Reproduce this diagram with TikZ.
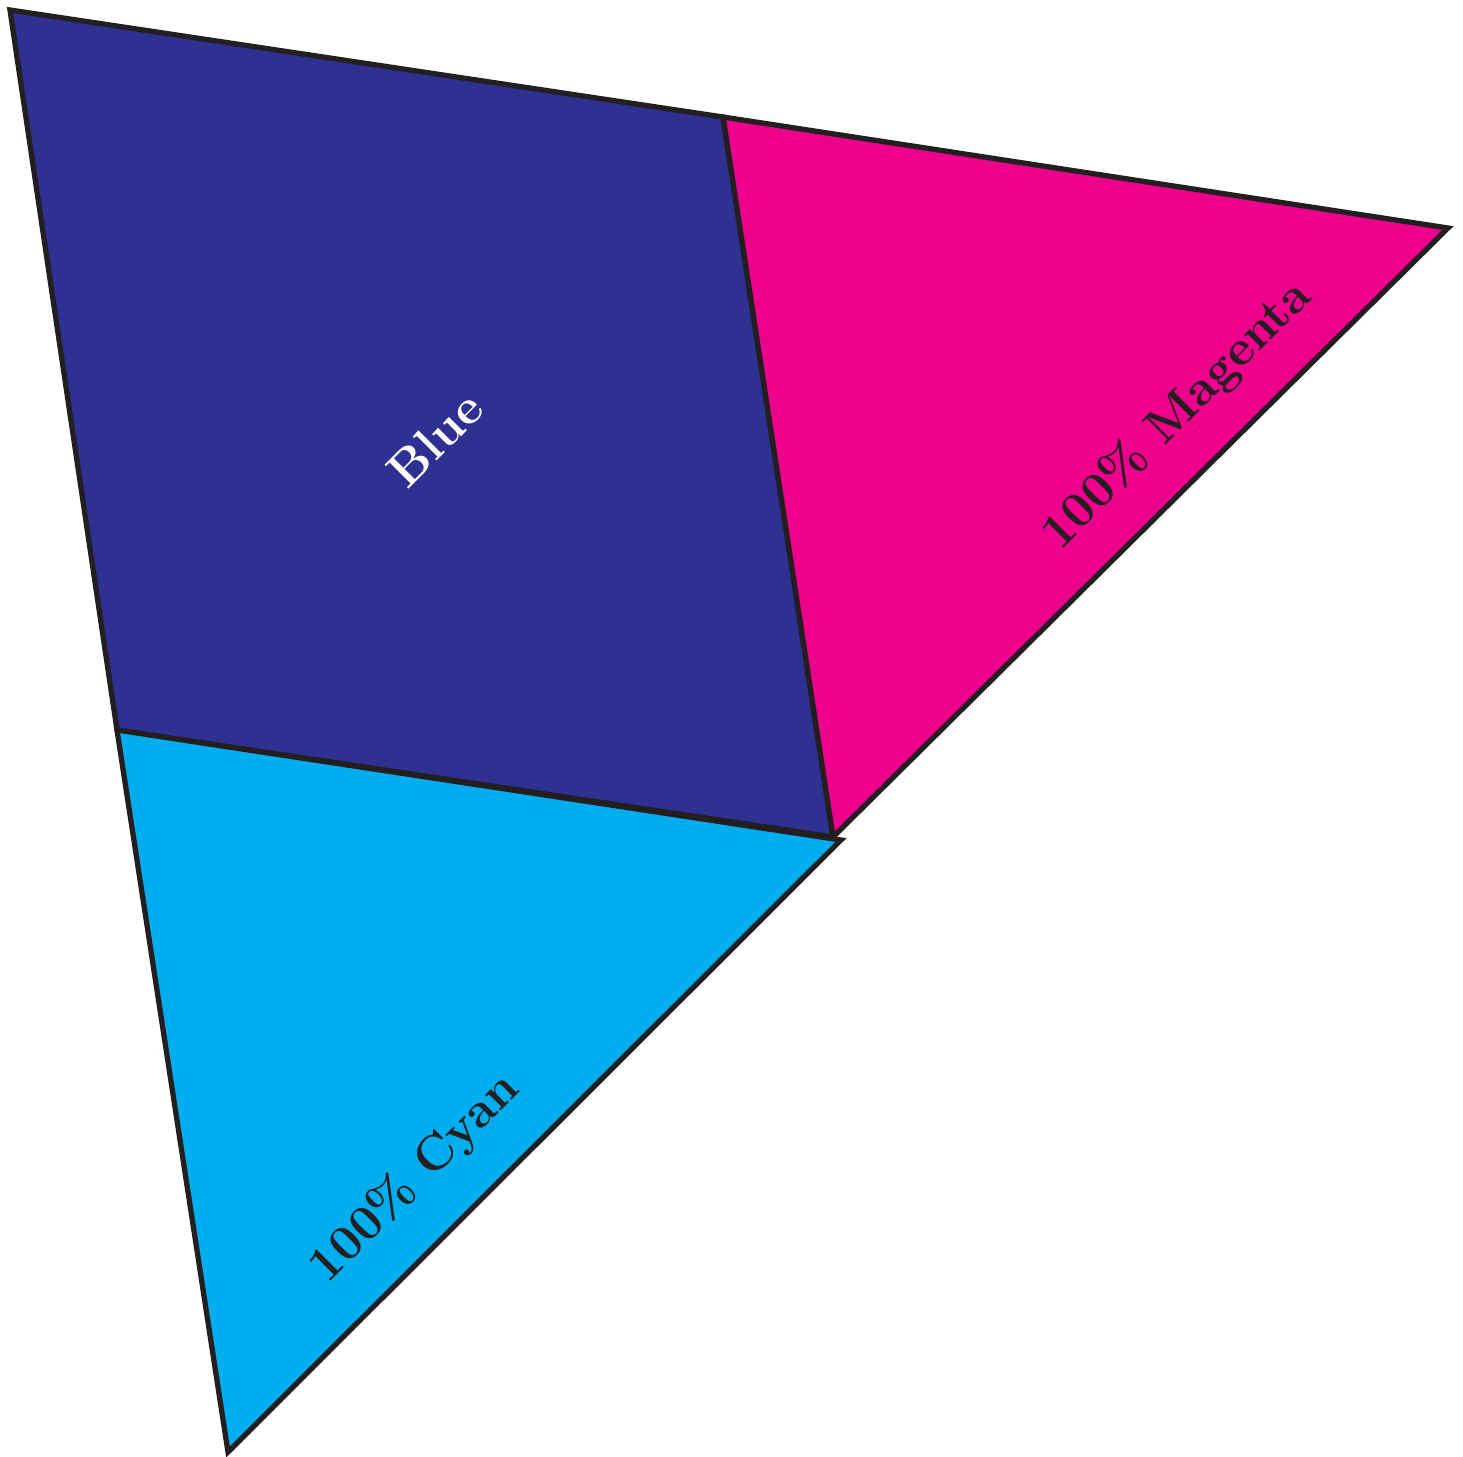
\documentclass[tikz,border=0pt]{standalone}
\usetikzlibrary{calc}
\definecolor{cblue}{HTML}{2E3192}
\definecolor{cmagenta}{HTML}{EC008C}
\definecolor{ccyan}{HTML}{00AEEF}
\definecolor{cink}{HTML}{231F20}
\tikzset{
  every picture/.style={line width=1.5pt},
  patch/.style={draw=cink, fill=#1, line join=miter},
  patch/.default=cblue,
  tag/.style={font=\bfseries\fontsize{14}{16}\selectfont, text=cink, rotate=45, inner sep=0pt},
}

\begin{document}
\begin{tikzpicture}[x=0.01cm, y=-0.01cm]
  \useasboundingbox (0,0) rectangle (1463,1457);

  % corners
  \coordinate (tl) at (10,10);
  \coordinate (tm) at (723,117);
  \coordinate (rt) at (1448,228);
  \coordinate (md) at (833,837);
  \coordinate (cy) at (841,840);
  \coordinate (lm) at (117,730);
  \coordinate (bt) at (228,1452);

  % patches
  \draw[patch=cblue] (tl) -- (tm) -- (md) -- (lm) -- cycle;
  \draw[patch=cmagenta] (tm) -- (rt) -- (md) -- cycle;
  \draw[patch=ccyan] (lm) -- (cy) -- (bt) -- cycle;

  % labels
  \node[tag, text=white] (lblue) at (435,439) {Blue};
  \node[tag] (lmag) at (1177,415) {100\% Magenta};
  \node[tag] (lcyan) at (415,1178) {100\% Cyan};
\end{tikzpicture}
\end{document}
